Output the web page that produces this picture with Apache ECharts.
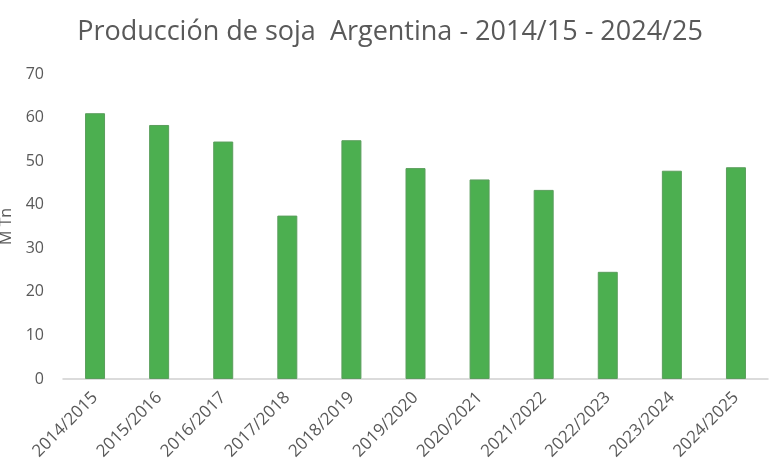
<!DOCTYPE html>
<html>
<head>
<meta charset="utf-8">
<script src="https://cdn.jsdelivr.net/npm/echarts@6/dist/echarts.min.js"></script>
<style>html,body{margin:0;padding:0;background:#fff}#c{width:780px;height:470px}</style>
</head>
<body>
<div id="c"></div>
<script>
const titleText = 'Producción de soja  Argentina - 2014/15 - 2024/25';
const yAxisName = 'M Tn';
const categories = ['2014/2015','2015/2016','2016/2017','2017/2018','2018/2019','2019/2020','2020/2021','2021/2022','2022/2023','2023/2024','2024/2025'];
const production = [61.0, 58.3, 54.5, 37.5, 54.8, 48.4, 45.8, 43.4, 24.6, 47.8, 48.6];
const yTicks = {min: 0, max: 70, interval: 10};

const chart = echarts.init(document.getElementById('c'), null, {renderer: 'canvas'});
chart.setOption({
  animation: false,
  backgroundColor: '#ffffff',
  title: {
    text: titleText,
    left: 'center',
    top: 14,
    textStyle: {fontFamily: 'Open Sans', fontSize: 27, fontWeight: 'normal', color: '#595959'}
  },
  grid: {left: 63, right: 12, top: 74, bottom: 91, outerBoundsMode: 'none'},
  xAxis: {
    type: 'category',
    data: categories,
    axisLine: {lineStyle: {color: '#d0d0d0', width: 1.5}},
    axisTick: {show: false},
    axisLabel: {rotate: 45, margin: 16, fontFamily: 'Open Sans', fontSize: 17, color: '#595959'}
  },
  yAxis: {
    type: 'value',
    min: yTicks.min, max: yTicks.max, interval: yTicks.interval,
    name: yAxisName,
    nameLocation: 'middle',
    nameGap: 49,
    nameTextStyle: {fontFamily: 'Open Sans', fontSize: 16, color: '#595959'},
    axisLine: {show: false},
    axisTick: {show: false},
    splitLine: {show: false},
    axisLabel: {margin: 19, fontFamily: 'Open Sans', fontSize: 16, color: '#595959'}
  },
  series: [{
    type: 'bar',
    data: production,
    barWidth: 20,
    itemStyle: {color: '#4caf50', borderColor: '#5a9e5c', borderWidth: 1}
  }]
});
</script>
</body>
</html>
